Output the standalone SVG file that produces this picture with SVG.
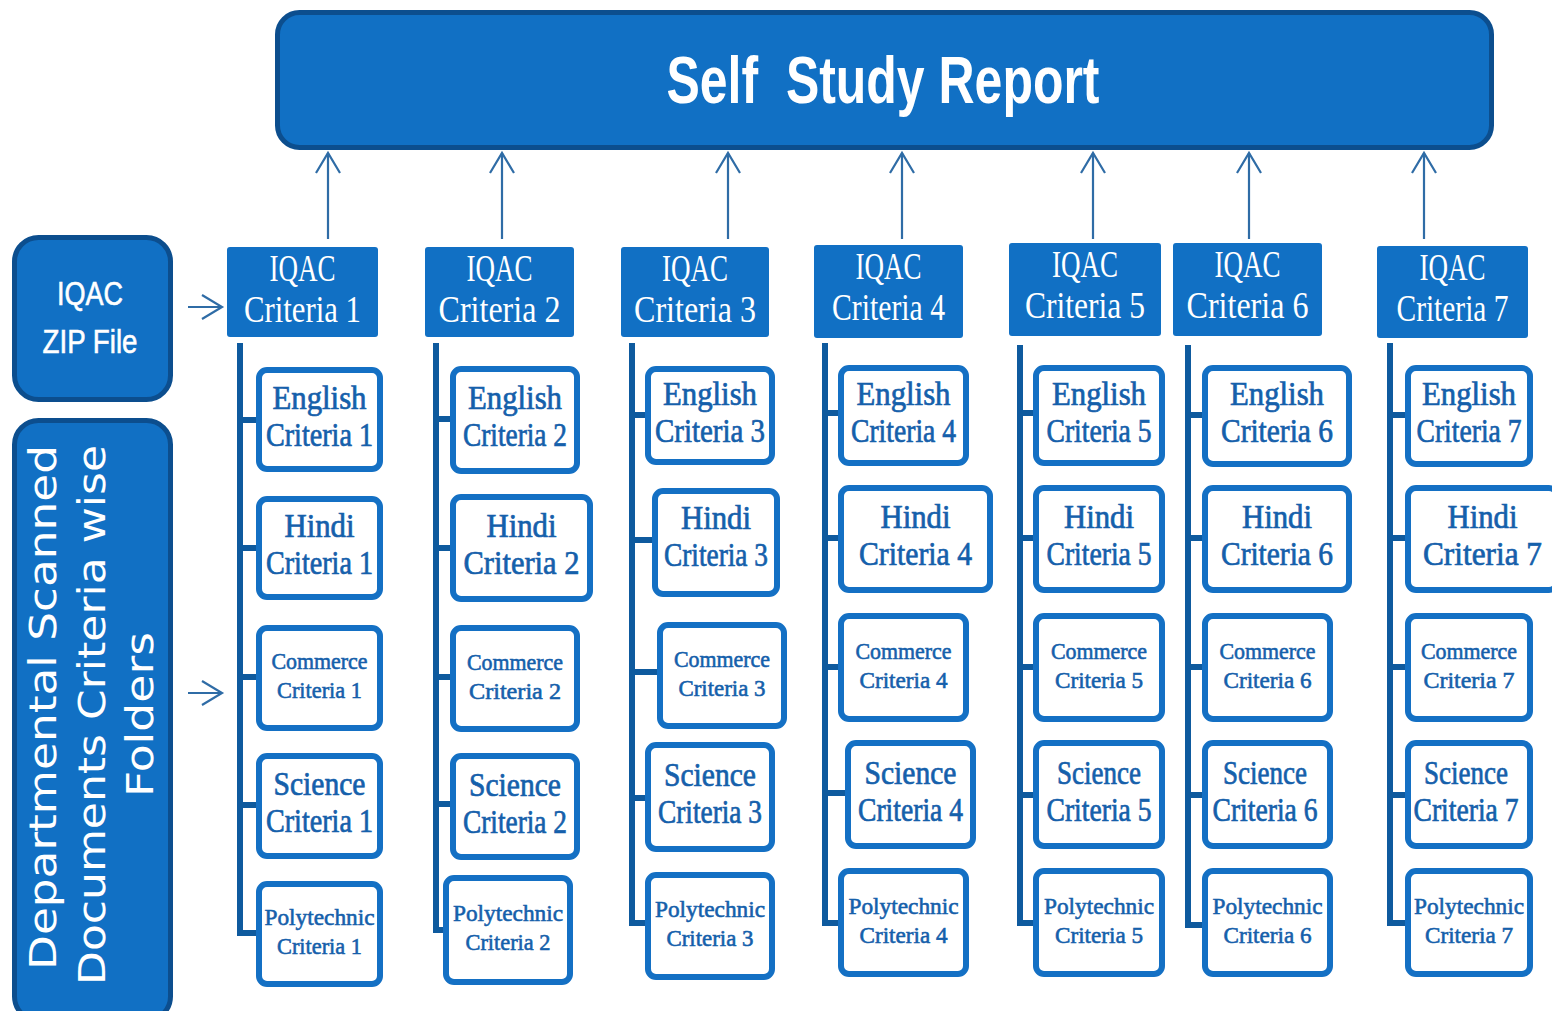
<svg xmlns="http://www.w3.org/2000/svg" width="1552" height="1011" viewBox="0 0 1552 1011">
<defs>
<style>
.banner{fill:#1170C4;stroke:#0C4E8E;stroke-width:5}
.hdr{fill:#1170C4}
.box{fill:#fff;stroke:#1470C4;stroke-width:6}
.ct{font-family:"Liberation Serif",serif;fill:#1560AB;stroke:#1560AB;stroke-width:0.7;text-anchor:middle;font-size:33px}
.cs{font-size:24px;stroke-width:0.6}
.ht{font-family:"Liberation Serif",serif;fill:#fff;text-anchor:middle;font-size:38px}
.st{font-family:"Liberation Sans",Arial,sans-serif;fill:#fff;text-anchor:middle}
.zt{stroke:#fff;stroke-width:0.6}
.dt{font-family:"DejaVu Sans",Verdana,sans-serif;fill:#fff;text-anchor:middle;font-size:37px}
.spine{stroke:#0E5A9E;stroke-width:6;fill:none}
.arr{stroke:#2F6CA6;stroke-width:2.2;fill:none;marker-end:url(#ah)}
</style>
<marker id="ah" markerUnits="userSpaceOnUse" markerWidth="26" markerHeight="30" viewBox="0 0 26 30" refX="23" refY="15" orient="auto">
<path d="M3,3 L23,15 L3,27" fill="none" stroke="#2F6CA6" stroke-width="2.2"/>
</marker>
</defs>
<rect width="1552" height="1011" fill="#fff"/>

<g id="ssr">
<rect class="banner" x="277.5" y="12.5" width="1214" height="135" rx="22"/>
<text class="st" x="883" y="103" font-size="66" font-weight="bold" style="white-space:pre" textLength="433" lengthAdjust="spacingAndGlyphs">Self  Study Report</text>
</g>

<g id="zip">
<rect class="banner" x="14.5" y="237.5" width="156" height="162" rx="24"/>
<text class="st zt" x="90" y="305" font-size="33" textLength="66" lengthAdjust="spacingAndGlyphs">IQAC</text>
<text class="st zt" x="90" y="353" font-size="33" textLength="95" lengthAdjust="spacingAndGlyphs">ZIP File</text>
</g>

<g id="dept">
<rect class="banner" x="14.5" y="420.5" width="156" height="600" rx="24"/>
<text class="dt" transform="translate(56,707.5) rotate(-90)" textLength="525" lengthAdjust="spacingAndGlyphs">Departmental Scanned</text>
<text class="dt" transform="translate(105,715) rotate(-90)" textLength="540" lengthAdjust="spacingAndGlyphs">Documents Criteria wise</text>
<text class="dt" transform="translate(153,714.5) rotate(-90)" textLength="165" lengthAdjust="spacingAndGlyphs">Folders</text>
</g>

<g id="connectors">
<line class="arr" x1="328" y1="239" x2="328" y2="153"/>
<line class="arr" x1="502" y1="239" x2="502" y2="153"/>
<line class="arr" x1="728" y1="239" x2="728" y2="153"/>
<line class="arr" x1="902" y1="239" x2="902" y2="153"/>
<line class="arr" x1="1093" y1="239" x2="1093" y2="153"/>
<line class="arr" x1="1249" y1="239" x2="1249" y2="153"/>
<line class="arr" x1="1424" y1="239" x2="1424" y2="153"/>
<line class="arr" x1="188" y1="307" x2="222" y2="307"/>
<line class="arr" x1="188" y1="693" x2="222" y2="693"/>
<path class="spine" d="M240,343 V933 H257 M240,420 H257 M240,548 H257 M240,677 H257 M240,805 H257"/>
<path class="spine" d="M436,343 V930 H444 M436,419 H451 M436,548 H451 M436,677 H451 M436,804 H451"/>
<path class="spine" d="M632,343 V923 H646 M632,415 H646 M632,540 H653 M632,672 H658 M632,798 H646"/>
<path class="spine" d="M825,343 V923 H839 M825,413 H839 M825,538 H839 M825,667 H839 M825,793 H846"/>
<path class="spine" d="M1020,345 V923 H1034 M1020,413 H1034 M1020,538 H1034 M1020,667 H1034 M1020,795 H1034"/>
<path class="spine" d="M1188,345 V925 H1203 M1188,415 H1203 M1188,538 H1203 M1188,667 H1203 M1188,795 H1203"/>
<path class="spine" d="M1390,343 V923 H1406 M1390,415 H1406 M1390,538 H1406 M1390,667 H1406 M1390,795 H1406"/>
</g>

<!-- Headers -->
<g id="h1"><rect class="hdr" x="227" y="247" width="151" height="90" rx="3"/>
<text class="ht" x="302.5" y="281" textLength="66" lengthAdjust="spacingAndGlyphs">IQAC</text>
<text class="ht" x="302.5" y="322" textLength="117" lengthAdjust="spacingAndGlyphs">Criteria 1</text></g>
<g id="h2"><rect class="hdr" x="425" y="247" width="149" height="90" rx="3"/>
<text class="ht" x="499.5" y="281" textLength="66" lengthAdjust="spacingAndGlyphs">IQAC</text>
<text class="ht" x="499.5" y="322" textLength="122" lengthAdjust="spacingAndGlyphs">Criteria 2</text></g>
<g id="h3"><rect class="hdr" x="621" y="247" width="148" height="90" rx="3"/>
<text class="ht" x="695" y="281" textLength="66" lengthAdjust="spacingAndGlyphs">IQAC</text>
<text class="ht" x="695" y="322" textLength="122" lengthAdjust="spacingAndGlyphs">Criteria 3</text></g>
<g id="h4"><rect class="hdr" x="814" y="245" width="149" height="93" rx="3"/>
<text class="ht" x="888.5" y="279" textLength="66" lengthAdjust="spacingAndGlyphs">IQAC</text>
<text class="ht" x="888.5" y="320" textLength="113" lengthAdjust="spacingAndGlyphs">Criteria 4</text></g>
<g id="h5"><rect class="hdr" x="1009" y="243" width="152" height="93" rx="3"/>
<text class="ht" x="1085" y="277" textLength="66" lengthAdjust="spacingAndGlyphs">IQAC</text>
<text class="ht" x="1085" y="318" textLength="120" lengthAdjust="spacingAndGlyphs">Criteria 5</text></g>
<g id="h6"><rect class="hdr" x="1173" y="243" width="149" height="93" rx="3"/>
<text class="ht" x="1247.5" y="277" textLength="66" lengthAdjust="spacingAndGlyphs">IQAC</text>
<text class="ht" x="1247.5" y="318" textLength="122" lengthAdjust="spacingAndGlyphs">Criteria 6</text></g>
<g id="h7"><rect class="hdr" x="1377" y="246" width="151" height="92" rx="3"/>
<text class="ht" x="1452.5" y="280" textLength="66" lengthAdjust="spacingAndGlyphs">IQAC</text>
<text class="ht" x="1452.5" y="321" textLength="112" lengthAdjust="spacingAndGlyphs">Criteria 7</text></g>

<!-- Column 1 -->
<g id="e1"><rect class="box" x="259" y="370" width="121" height="99" rx="8"/>
<text class="ct" x="319.5" y="408.5" textLength="94" lengthAdjust="spacingAndGlyphs">English</text>
<text class="ct" x="319.5" y="445.5" textLength="107" lengthAdjust="spacingAndGlyphs">Criteria 1</text></g>
<g id="hi1"><rect class="box" x="259" y="499" width="121" height="98" rx="8"/>
<text class="ct" x="319.5" y="537" textLength="70" lengthAdjust="spacingAndGlyphs">Hindi</text>
<text class="ct" x="319.5" y="574" textLength="107" lengthAdjust="spacingAndGlyphs">Criteria 1</text></g>
<g id="c1"><rect class="box" x="259" y="628" width="121" height="100" rx="8"/>
<text class="ct cs" x="319.5" y="669" textLength="96" lengthAdjust="spacingAndGlyphs">Commerce</text>
<text class="ct cs" x="319.5" y="698" textLength="85" lengthAdjust="spacingAndGlyphs">Criteria 1</text></g>
<g id="s1"><rect class="box" x="259" y="756" width="121" height="100" rx="8"/>
<text class="ct" x="319.5" y="795" textLength="92" lengthAdjust="spacingAndGlyphs">Science</text>
<text class="ct" x="319.5" y="832" textLength="107" lengthAdjust="spacingAndGlyphs">Criteria 1</text></g>
<g id="p1"><rect class="box" x="259" y="884" width="121" height="100" rx="8"/>
<text class="ct cs" x="319.5" y="925" textLength="110" lengthAdjust="spacingAndGlyphs">Polytechnic</text>
<text class="ct cs" x="319.5" y="954" textLength="85" lengthAdjust="spacingAndGlyphs">Criteria 1</text></g>

<!-- Column 2 -->
<g id="e2"><rect class="box" x="453" y="369" width="124" height="102" rx="8"/>
<text class="ct" x="515" y="409" textLength="94" lengthAdjust="spacingAndGlyphs">English</text>
<text class="ct" x="515" y="446" textLength="104" lengthAdjust="spacingAndGlyphs">Criteria 2</text></g>
<g id="hi2"><rect class="box" x="453" y="497" width="137" height="102" rx="8"/>
<text class="ct" x="521.5" y="537" textLength="70" lengthAdjust="spacingAndGlyphs">Hindi</text>
<text class="ct" x="521.5" y="574" textLength="116" lengthAdjust="spacingAndGlyphs">Criteria  2</text></g>
<g id="c2"><rect class="box" x="453" y="628" width="124" height="101" rx="8"/>
<text class="ct cs" x="515" y="669.5" textLength="96" lengthAdjust="spacingAndGlyphs">Commerce</text>
<text class="ct cs" x="515" y="698.5" textLength="92" lengthAdjust="spacingAndGlyphs">Criteria  2</text></g>
<g id="s2"><rect class="box" x="453" y="756" width="124" height="101" rx="8"/>
<text class="ct" x="515" y="795.5" textLength="92" lengthAdjust="spacingAndGlyphs">Science</text>
<text class="ct" x="515" y="832.5" textLength="104" lengthAdjust="spacingAndGlyphs">Criteria 2</text></g>
<g id="p2"><rect class="box" x="446" y="878" width="124" height="104" rx="8"/>
<text class="ct cs" x="508" y="921" textLength="110" lengthAdjust="spacingAndGlyphs">Polytechnic</text>
<text class="ct cs" x="508" y="950" textLength="85" lengthAdjust="spacingAndGlyphs">Criteria 2</text></g>

<!-- Column 3 -->
<g id="e3"><rect class="box" x="648" y="369" width="124" height="93" rx="8"/>
<text class="ct" x="710" y="404.5" textLength="94" lengthAdjust="spacingAndGlyphs">English</text>
<text class="ct" x="710" y="441.5" textLength="110" lengthAdjust="spacingAndGlyphs">Criteria 3</text></g>
<g id="hi3"><rect class="box" x="655" y="491" width="122" height="103" rx="8"/>
<text class="ct" x="716" y="529" textLength="70" lengthAdjust="spacingAndGlyphs">Hindi</text>
<text class="ct" x="716" y="566" textLength="104" lengthAdjust="spacingAndGlyphs">Criteria 3</text></g>
<g id="c3"><rect class="box" x="660" y="625" width="124" height="101" rx="8"/>
<text class="ct cs" x="722" y="666.5" textLength="96" lengthAdjust="spacingAndGlyphs">Commerce</text>
<text class="ct cs" x="722" y="695.5" textLength="87" lengthAdjust="spacingAndGlyphs">Criteria 3</text></g>
<g id="s3"><rect class="box" x="648" y="745" width="124" height="104" rx="8"/>
<text class="ct" x="710" y="786" textLength="92" lengthAdjust="spacingAndGlyphs">Science</text>
<text class="ct" x="710" y="823" textLength="104" lengthAdjust="spacingAndGlyphs">Criteria 3</text></g>
<g id="p3"><rect class="box" x="648" y="875" width="124" height="102" rx="8"/>
<text class="ct cs" x="710" y="917" textLength="110" lengthAdjust="spacingAndGlyphs">Polytechnic</text>
<text class="ct cs" x="710" y="946" textLength="87" lengthAdjust="spacingAndGlyphs">Criteria 3</text></g>

<!-- Column 4 -->
<g id="e4"><rect class="box" x="841" y="368" width="125" height="95" rx="8"/>
<text class="ct" x="903.5" y="405" textLength="94" lengthAdjust="spacingAndGlyphs">English</text>
<text class="ct" x="903.5" y="441.5" textLength="105" lengthAdjust="spacingAndGlyphs">Criteria 4</text></g>
<g id="hi4"><rect class="box" x="841" y="488" width="149" height="102" rx="8"/>
<text class="ct" x="915.5" y="528" textLength="70" lengthAdjust="spacingAndGlyphs">Hindi</text>
<text class="ct" x="915.5" y="565" textLength="113" lengthAdjust="spacingAndGlyphs">Criteria 4</text></g>
<g id="c4"><rect class="box" x="841" y="616" width="125" height="103" rx="8"/>
<text class="ct cs" x="903.5" y="658.5" textLength="96" lengthAdjust="spacingAndGlyphs">Commerce</text>
<text class="ct cs" x="903.5" y="687.5" textLength="88" lengthAdjust="spacingAndGlyphs">Criteria 4</text></g>
<g id="s4"><rect class="box" x="848" y="743" width="125" height="103" rx="8"/>
<text class="ct" x="910.5" y="783.5" textLength="92" lengthAdjust="spacingAndGlyphs">Science</text>
<text class="ct" x="910.5" y="820.5" textLength="105" lengthAdjust="spacingAndGlyphs">Criteria 4</text></g>
<g id="p4"><rect class="box" x="841" y="871" width="125" height="103" rx="8"/>
<text class="ct cs" x="903.5" y="913.5" textLength="110" lengthAdjust="spacingAndGlyphs">Polytechnic</text>
<text class="ct cs" x="903.5" y="942.5" textLength="88" lengthAdjust="spacingAndGlyphs">Criteria 4</text></g>

<!-- Column 5 -->
<g id="e5"><rect class="box" x="1036" y="368" width="126" height="95" rx="8"/>
<text class="ct" x="1099" y="405" textLength="94" lengthAdjust="spacingAndGlyphs">English</text>
<text class="ct" x="1099" y="441.5" textLength="105" lengthAdjust="spacingAndGlyphs">Criteria 5</text></g>
<g id="hi5"><rect class="box" x="1036" y="488" width="126" height="102" rx="8"/>
<text class="ct" x="1099" y="528" textLength="70" lengthAdjust="spacingAndGlyphs">Hindi</text>
<text class="ct" x="1099" y="565" textLength="105" lengthAdjust="spacingAndGlyphs">Criteria 5</text></g>
<g id="c5"><rect class="box" x="1036" y="616" width="126" height="103" rx="8"/>
<text class="ct cs" x="1099" y="658.5" textLength="96" lengthAdjust="spacingAndGlyphs">Commerce</text>
<text class="ct cs" x="1099" y="687.5" textLength="88" lengthAdjust="spacingAndGlyphs">Criteria 5</text></g>
<g id="s5"><rect class="box" x="1036" y="743" width="126" height="103" rx="8"/>
<text class="ct" x="1099" y="783.5" textLength="84" lengthAdjust="spacingAndGlyphs">Science</text>
<text class="ct" x="1099" y="820.5" textLength="105" lengthAdjust="spacingAndGlyphs">Criteria 5</text></g>
<g id="p5"><rect class="box" x="1036" y="871" width="126" height="103" rx="8"/>
<text class="ct cs" x="1099" y="913.5" textLength="110" lengthAdjust="spacingAndGlyphs">Polytechnic</text>
<text class="ct cs" x="1099" y="942.5" textLength="88" lengthAdjust="spacingAndGlyphs">Criteria 5</text></g>

<!-- Column 6 -->
<g id="e6"><rect class="box" x="1205" y="368" width="144" height="96" rx="8"/>
<text class="ct" x="1277" y="405" textLength="94" lengthAdjust="spacingAndGlyphs">English</text>
<text class="ct" x="1277" y="442" textLength="112" lengthAdjust="spacingAndGlyphs">Criteria 6</text></g>
<g id="hi6"><rect class="box" x="1205" y="488" width="144" height="102" rx="8"/>
<text class="ct" x="1277" y="528" textLength="70" lengthAdjust="spacingAndGlyphs">Hindi</text>
<text class="ct" x="1277" y="565" textLength="112" lengthAdjust="spacingAndGlyphs">Criteria 6</text></g>
<g id="c6"><rect class="box" x="1205" y="616" width="125" height="103" rx="8"/>
<text class="ct cs" x="1267.5" y="658.5" textLength="96" lengthAdjust="spacingAndGlyphs">Commerce</text>
<text class="ct cs" x="1267.5" y="687.5" textLength="88" lengthAdjust="spacingAndGlyphs">Criteria 6</text></g>
<g id="s6"><rect class="box" x="1205" y="743" width="125" height="103" rx="8"/>
<text class="ct" x="1265" y="783.5" textLength="84" lengthAdjust="spacingAndGlyphs">Science</text>
<text class="ct" x="1265" y="820.5" textLength="105" lengthAdjust="spacingAndGlyphs">Criteria 6</text></g>
<g id="p6"><rect class="box" x="1205" y="871" width="125" height="103" rx="8"/>
<text class="ct cs" x="1267.5" y="913.5" textLength="110" lengthAdjust="spacingAndGlyphs">Polytechnic</text>
<text class="ct cs" x="1267.5" y="942.5" textLength="88" lengthAdjust="spacingAndGlyphs">Criteria 6</text></g>

<!-- Column 7 -->
<g id="e7"><rect class="box" x="1408" y="368" width="122" height="96" rx="8"/>
<text class="ct" x="1469" y="405" textLength="94" lengthAdjust="spacingAndGlyphs">English</text>
<text class="ct" x="1469" y="442" textLength="105" lengthAdjust="spacingAndGlyphs">Criteria 7</text></g>
<g id="hi7"><rect class="box" x="1408" y="488" width="149" height="102" rx="8"/>
<text class="ct" x="1482.5" y="528" textLength="70" lengthAdjust="spacingAndGlyphs">Hindi</text>
<text class="ct" x="1482.5" y="565" textLength="119" lengthAdjust="spacingAndGlyphs">Criteria  7</text></g>
<g id="c7"><rect class="box" x="1408" y="616" width="122" height="103" rx="8"/>
<text class="ct cs" x="1469" y="658.5" textLength="96" lengthAdjust="spacingAndGlyphs">Commerce</text>
<text class="ct cs" x="1469" y="687.5" textLength="91" lengthAdjust="spacingAndGlyphs">Criteria  7</text></g>
<g id="s7"><rect class="box" x="1408" y="743" width="122" height="103" rx="8"/>
<text class="ct" x="1466" y="783.5" textLength="84" lengthAdjust="spacingAndGlyphs">Science</text>
<text class="ct" x="1466" y="820.5" textLength="105" lengthAdjust="spacingAndGlyphs">Criteria 7</text></g>
<g id="p7"><rect class="box" x="1408" y="871" width="122" height="103" rx="8"/>
<text class="ct cs" x="1469" y="913.5" textLength="110" lengthAdjust="spacingAndGlyphs">Polytechnic</text>
<text class="ct cs" x="1469" y="942.5" textLength="88" lengthAdjust="spacingAndGlyphs">Criteria 7</text></g>
</svg>
